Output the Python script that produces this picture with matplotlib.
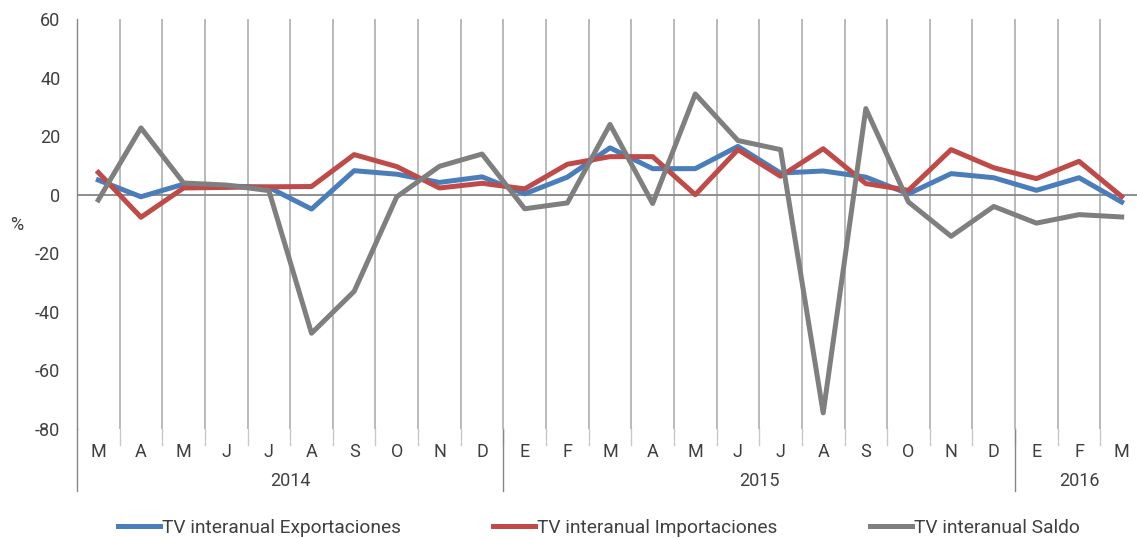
import matplotlib
matplotlib.use("Agg")
import matplotlib.pyplot as plt

plt.rcParams['font.family'] = ['DejaVu Sans Condensed', 'Roboto', 'DejaVu Sans']
plt.rcParams['axes.unicode_minus'] = False

months = ["M", "A", "M", "J", "J", "A", "S", "O", "N", "D",
          "E", "F", "M", "A", "M", "J", "J", "A", "S", "O", "N", "D",
          "E", "F", "M"]
years = ["2014", "2015", "2016"]
year_counts = [10, 12, 3]

exportaciones = [5, -0.7, 3.6, 3, 2.5, -4.9, 8.2, 7, 4.2, 6.1,
                 0.3, 6, 16, 8.9, 8.9, 16.5, 7.4, 8.1, 6, 0.3, 7.2, 5.8,
                 1.5, 5.8, -2.5]
importaciones = [7.6, -7.7, 2.3, 2.5, 2.7, 2.8, 13.7, 9.6, 2.3, 3.9,
                 2, 10.4, 13, 13, 0, 15.4, 6.3, 15.7, 3.8, 1.5, 15.4, 9.2,
                 5.5, 11.4, -0.6]
saldo = [-1.8, 22.8, 4, 3.3, 1.4, -47.3, -33, -0.7, 9.7, 13.9,
         -4.8, -2.8, 24, -3, 34.4, 18.5, 15.4, -74.5, 29.4, -2.5, -14.2, -4,
         -9.7, -6.8, -7.6]

text_color = "#404040"
grid_color = "#b4b4b4"
fs = 13

fig = plt.figure(figsize=(11.37, 5.38), dpi=100)
ax = fig.add_axes([77 / 1137, 1 - 429 / 538, (1143 - 77) / 1137, 410 / 538])

x = list(range(len(months)))
ax.plot(x, exportaciones, color="#4a7ebb", lw=3.6, label="TV interanual Exportaciones", zorder=3)
ax.plot(x, importaciones, color="#be4b48", lw=3.6, label="TV interanual Importaciones", zorder=3)
ax.plot(x, saldo, color="#7f7f7f", lw=3.6, label="TV interanual Saldo", zorder=3)

ax.set_xlim(-0.5, len(months) - 0.5)
ax.set_ylim(-80, 60)
ax.set_yticks(range(-80, 61, 20))
ax.tick_params(axis="y", length=0, labelsize=fs, labelcolor=text_color, pad=12)
ax.set_xticks([])
for s in ["top", "right", "bottom"]:
    ax.spines[s].set_visible(False)
ax.spines["left"].set_color("#888888")
ax.spines["left"].set_linewidth(1)

ax.axhline(0, color="#868686", lw=1.3, zorder=2)

trans = ax.get_xaxis_transform()
# vertical grid lines and month ticks
for i in range(1, len(months)):
    ax.plot([i - 0.5, i - 0.5], [0, 1], color=grid_color, lw=1.3, transform=trans, zorder=1)
    ax.plot([i - 0.5, i - 0.5], [0, -0.04], color="#c8c8c8", lw=1, transform=trans, clip_on=False)

for i, m in enumerate(months):
    ax.text(i, -0.055, m, transform=trans, ha="center", va="center",
            fontsize=fs, color=text_color)

start = 0
for y, n in zip(years, year_counts):
    ax.plot([start - 0.5, start - 0.5], [0, -0.15], color="#888888", lw=1,
            transform=trans, clip_on=False)
    ax.text(start + (n - 1) / 2, -0.127, y, transform=trans, ha="center", va="center",
            fontsize=fs, color=text_color)
    start += n

fig.text(17 / 1137, 1 - 225 / 538, "%", ha="center", va="center", fontsize=fs, color=text_color)

fig.legend(loc="center left", bbox_to_anchor=(118 / 1137, 1 - 528 / 538), ncol=3, frameon=False,
           fontsize=13.8, handlelength=2.2, handletextpad=0.1, columnspacing=4.8,
           labelcolor=text_color, borderpad=0, borderaxespad=0)

fig.savefig("out.png", dpi=100)
